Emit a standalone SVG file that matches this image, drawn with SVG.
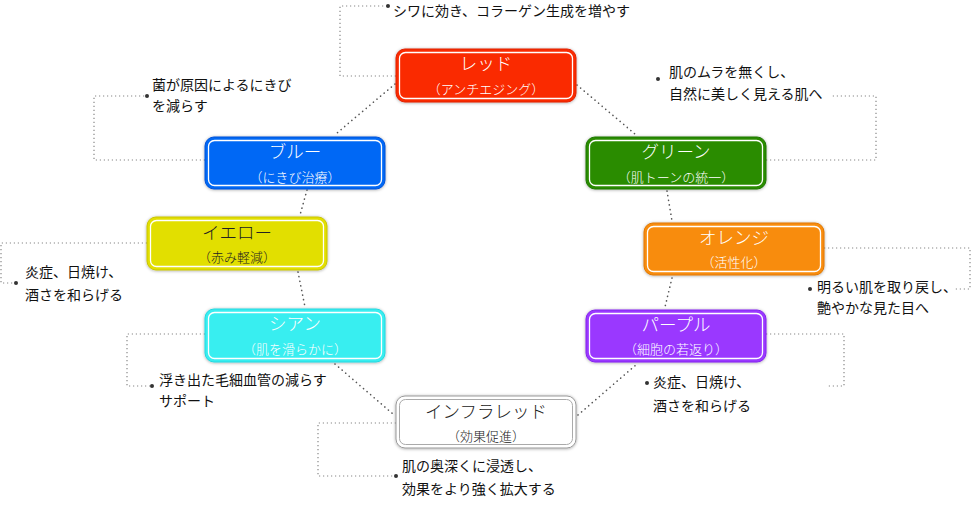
<svg xmlns="http://www.w3.org/2000/svg" width="971" height="516" viewBox="0 0 971 516">
<defs>
<filter id="sh" x="-10%" y="-20%" width="120%" height="140%">
<feDropShadow dx="0" dy="0.5" stdDeviation="1.6" flood-color="#000" flood-opacity="0.35"/>
</filter>
<style>
.ring{fill:none;stroke:#555;stroke-width:1.6;stroke-dasharray:0.1 4.6;stroke-linecap:round}
.call{fill:none;stroke:#888;stroke-width:1.2;stroke-dasharray:1.2 2.8}
.dot{fill:#333}
.box{filter:url(#sh)}
.inner{fill:none;stroke:#fff;stroke-width:1.3}
.t{font-family:"Noto Sans CJK JP","Noto Sans",sans-serif;font-size:17.5px;font-weight:300;fill:#fff;text-anchor:middle}
.s{font-family:"Noto Sans CJK JP","Noto Sans",sans-serif;font-size:13px;font-weight:300;fill:#fff;text-anchor:middle}
.d{fill:#222}
.c{font-family:"Noto Sans CJK JP","Noto Sans",sans-serif;font-size:14px;fill:#111}
</style>
</defs>
<g id="connectors">
<line class="ring" x1="395" y1="84" x2="337" y2="133"/>
<line class="ring" x1="577" y1="85" x2="635" y2="134"/>
<line class="ring" x1="307" y1="190" x2="300" y2="215"/>
<line class="ring" x1="667" y1="191" x2="672" y2="221"/>
<line class="ring" x1="298" y1="272" x2="305" y2="307"/>
<line class="ring" x1="672" y1="278" x2="665" y2="307"/>
<line class="ring" x1="335" y1="364" x2="393" y2="414"/>
<line class="ring" x1="578" y1="415" x2="637" y2="364"/>
<path class="call" d="M396,76 H340 V6 H388"/>
<path class="call" d="M205,160 H94 V96 H147"/>
<path class="call" d="M766,160 H876 V96 H832"/>
<path class="call" d="M147,243 H1 V283 H16"/>
<path class="call" d="M824,248 H970 V289 H955"/>
<path class="call" d="M205,334 H127 V386 H152"/>
<path class="call" d="M766,334 H844 V386 H828"/>
<path class="call" d="M396,423 H318 V476 H396"/>
<circle class="dot" cx="388" cy="6" r="2"/>
<circle class="dot" cx="147" cy="96" r="2"/>
<circle class="dot" cx="658" cy="79" r="2"/>
<circle class="dot" cx="16" cy="283" r="2"/>
<circle class="dot" cx="810" cy="289" r="2"/>
<circle class="dot" cx="152" cy="386" r="2"/>
<circle class="dot" cx="647" cy="383" r="2"/>
<circle class="dot" cx="396" cy="476" r="2"/>
</g>
<g id="red">
<rect class="box" x="396" y="49" width="180" height="53" rx="9" fill="#FA2A00" stroke="#E02000"/>
<rect class="inner" x="399.5" y="52.5" width="173" height="46" rx="6"/>
<text class="t" x="486" y="70">レッド</text>
<text class="s" x="486" y="94">（アンチエジング）</text>
</g>
<g id="blue">
<rect class="box" x="205" y="137" width="180" height="52" rx="9" fill="#0068F5" stroke="#0052D6"/>
<rect class="inner" x="208.5" y="140.5" width="173" height="45" rx="6"/>
<text class="t" x="295" y="158">ブルー</text>
<text class="s" x="295" y="182">（にきび治療）</text>
</g>
<g id="green">
<rect class="box" x="586" y="137" width="180" height="52" rx="9" fill="#2A8C00" stroke="#1F7800"/>
<rect class="inner" x="589.5" y="140.5" width="173" height="45" rx="6"/>
<text class="t" x="676" y="158">グリーン</text>
<text class="s" x="676" y="182">（肌トーンの統一）</text>
</g>
<g id="yellow">
<rect class="box" x="147" y="217" width="180" height="53" rx="9" fill="#E2DF00" stroke="#C9C400"/>
<rect class="inner" x="150.5" y="220.5" width="173" height="46" rx="6"/>
<text class="t d" x="237" y="239">イエロー</text>
<text class="s d" x="237" y="262">（赤み軽減）</text>
</g>
<g id="orange">
<rect class="box" x="644" y="223" width="180" height="52" rx="9" fill="#F88C10" stroke="#E07800"/>
<rect class="inner" x="647.5" y="226.5" width="173" height="45" rx="6"/>
<text class="t" x="734" y="244">オレンジ</text>
<text class="s" x="734" y="267">（活性化）</text>
</g>
<g id="cyan">
<rect class="box" x="205" y="309" width="180" height="53" rx="9" fill="#38EEF0" stroke="#22D8E0"/>
<rect class="inner" x="208.5" y="312.5" width="173" height="46" rx="6"/>
<text class="t" x="295" y="330">シアン</text>
<text class="s" x="295" y="354">（肌を滑らかに）</text>
</g>
<g id="purple">
<rect class="box" x="586" y="310" width="180" height="52" rx="9" fill="#9A38FF" stroke="#8424EE"/>
<rect class="inner" x="589.5" y="313.5" width="173" height="45" rx="6"/>
<text class="t" x="676" y="331">パープル</text>
<text class="s" x="676" y="354">（細胞の若返り）</text>
</g>
<g id="infrared">
<rect class="box" x="396" y="396" width="180" height="52" rx="9" fill="#fff" stroke="#999"/>
<rect x="399.5" y="399.5" width="173" height="45" rx="6" fill="none" stroke="#aaa" stroke-width="1"/>
<text class="t d" x="486" y="418">インフラレッド</text>
<text class="s d" x="486" y="441">（効果促進）</text>
</g>
<g id="callouts">
<text class="c" x="393" y="15.5">シワに効き、コラーゲン生成を増やす</text>
<text class="c" x="152" y="90">菌が原因によるにきび</text>
<text class="c" x="152" y="111">を減らす</text>
<text class="c" x="669" y="77">肌のムラを無くし、</text>
<text class="c" x="669" y="99">自然に美しく見える肌へ</text>
<text class="c" x="25" y="277">炎症、日焼け、</text>
<text class="c" x="25" y="300">酒さを和らげる</text>
<text class="c" x="817" y="292">明るい肌を取り戻し、</text>
<text class="c" x="817" y="313">艶やかな見た目へ</text>
<text class="c" x="159" y="385">浮き出た毛細血管の減らす</text>
<text class="c" x="159" y="406">サポート</text>
<text class="c" x="653" y="387">炎症、日焼け、</text>
<text class="c" x="653" y="411">酒さを和らげる</text>
<text class="c" x="402" y="471">肌の奥深くに浸透し、</text>
<text class="c" x="402" y="494">効果をより強く拡大する</text>
</g>
</svg>
